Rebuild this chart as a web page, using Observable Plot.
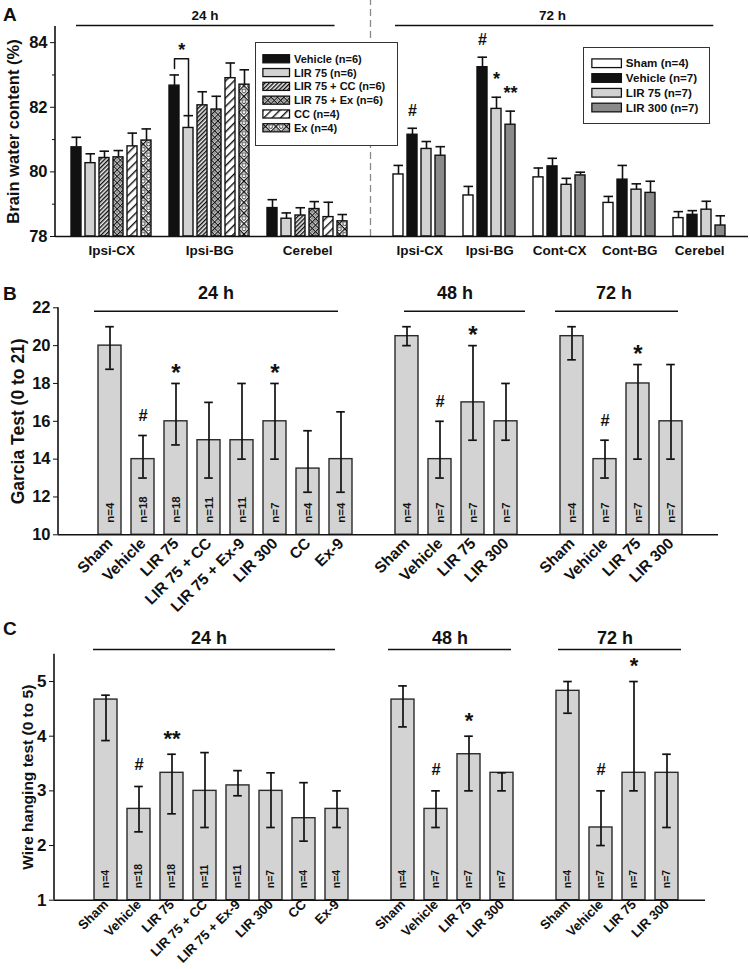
<!DOCTYPE html>
<html>
<head>
<meta charset="utf-8">
<script src="https://cdn.jsdelivr.net/npm/d3@7"></script>
<script src="https://cdn.jsdelivr.net/npm/@observablehq/plot@0.6"></script>
<style>
  html, body { margin: 0; padding: 0; background: #fff; }
  #root { position: relative; width: 750px; height: 969px; overflow: hidden; background: #fff;
          font-family: "Liberation Sans", Arial, Helvetica, sans-serif; font-weight: bold; color: #111; }
  .letter { position: absolute; font-size: 19px; line-height: 19px; font-weight: bold; }
</style>
</head>
<body>
<div id="root"></div>
<script>
// ---------------- DATA ----------------
// Panel A: brain water content (%), mean and SEM
const regionsA24 = ["Ipsi-CX", "Ipsi-BG", "Cerebel"];
const seriesA24 = ["Vehicle", "LIR 75", "LIR 75 + CC", "LIR 75 + Ex", "CC", "Ex"];
const nA24 = [6, 6, 6, 6, 4, 4];
const waterA24 = [
  [80.76, 80.27, 80.43, 80.45, 80.79, 80.97],
  [82.67, 81.36, 82.06, 81.93, 82.90, 82.70],
  [78.88, 78.55, 78.65, 78.85, 78.60, 78.47]
];
const semA24 = [
  [0.31, 0.29, 0.21, 0.21, 0.41, 0.36],
  [0.33, 0.38, 0.42, 0.41, 0.47, 0.46],
  [0.26, 0.18, 0.24, 0.23, 0.46, 0.21]
];
const regionsA72 = ["Ipsi-CX", "Ipsi-BG", "Cont-CX", "Cont-BG", "Cerebel"];
const seriesA72 = ["Sham", "Vehicle", "LIR 75", "LIR 300"];
const nA72 = [4, 7, 7, 7];
const waterA72 = [
  [79.92, 81.15, 80.71, 80.50],
  [79.27, 83.24, 81.95, 81.46],
  [79.83, 80.17, 79.60, 79.89],
  [79.04, 79.76, 79.45, 79.35],
  [78.57, 78.67, 78.83, 78.34]
];
const semA72 = [
  [0.28, 0.20, 0.23, 0.28],
  [0.28, 0.31, 0.36, 0.42],
  [0.29, 0.25, 0.20, 0.10],
  [0.20, 0.44, 0.18, 0.36],
  [0.20, 0.13, 0.26, 0.30]
];
const yDomainA = [78, 84.5];
const ticksA = [78, 80, 82, 84];
const minorTicksA = [79, 81, 83];
const sigA = [
  ["72 h", "Ipsi-CX", "Vehicle", "#"],
  ["72 h", "Ipsi-BG", "Vehicle", "#"],
  ["72 h", "Ipsi-BG", "LIR 75", "*"],
  ["72 h", "Ipsi-BG", "LIR 300", "**"]
];
const bracketA = ["24 h", "Ipsi-BG", "Vehicle", "LIR 75", "*"];

// Panel B: Garcia test (median, interquartile bars)
const groups24 = ["Sham", "Vehicle", "LIR 75", "LIR 75 + CC", "LIR 75 + Ex-9", "LIR 300", "CC", "Ex-9"];
const groups4 = ["Sham", "Vehicle", "LIR 75", "LIR 300"];
const n24 = [4, 18, 18, 11, 11, 7, 4, 4];
const n4 = [4, 7, 7, 7];
const garcia24 = [20, 14, 16, 15, 15, 16, 13.5, 14];
const garcia24Low = [18.75, 13, 14.75, 13, 14, 14, 12.25, 12.25];
const garcia24High = [21, 15.25, 18, 17, 18, 18, 15.5, 16.5];
const garcia48 = [20.5, 14, 17, 16];
const garcia48Low = [20, 13, 15, 15];
const garcia48High = [21, 16, 20, 18];
const garcia72 = [20.5, 14, 18, 16];
const garcia72Low = [19.25, 13, 14, 14];
const garcia72High = [21, 15, 19, 19];
const yDomainB = [10, 22];
const ticksB = [10, 12, 14, 16, 18, 20, 22];
const sigB = [["24 h", "Vehicle", "#"], ["24 h", "LIR 75", "*"], ["24 h", "LIR 300", "*"],
              ["48 h", "Vehicle", "#"], ["48 h", "LIR 75", "*"],
              ["72 h", "Vehicle", "#"], ["72 h", "LIR 75", "*"]];

// Panel C: wire hanging test
const wire24 = [4.67, 2.67, 3.33, 3.0, 3.1, 3.0, 2.5, 2.67];
const wire24Low = [3.92, 2.25, 2.58, 2.33, 2.91, 2.33, 2.08, 2.33];
const wire24High = [4.75, 3.08, 3.67, 3.7, 3.37, 3.33, 3.15, 3.0];
const wire48 = [4.67, 2.67, 3.67, 3.33];
const wire48Low = [4.17, 2.33, 3.0, 3.0];
const wire48High = [4.92, 3.0, 4.0, 3.33];
const wire72 = [4.83, 2.33, 3.33, 3.33];
const wire72Low = [4.42, 2.0, 3.0, 2.33];
const wire72High = [5.0, 3.0, 5.0, 3.67];
const yDomainC = [1, 5.5];
const ticksC = [1, 2, 3, 4, 5];
const sigC = [["24 h", "Vehicle", "#"], ["24 h", "LIR 75", "**"],
              ["48 h", "Vehicle", "#"], ["48 h", "LIR 75", "*"],
              ["72 h", "Vehicle", "#"], ["72 h", "LIR 75", "*"]];

// ---------------- STYLE ----------------
const W = 750;
const FONT = '"Liberation Sans", Arial, Helvetica, sans-serif';
const INK = "#111";
const baseStyle = {fontFamily: FONT, fontWeight: "bold", color: INK, background: "transparent", overflow: "visible"};
const fillOf = {
  "Vehicle": "#111111", "LIR 75": "#d2d2d2", "LIR 75 + CC": "url(#pHatchDense)",
  "LIR 75 + Ex": "url(#pCrossSmall)", "CC": "url(#pHatchWide)", "Ex": "url(#pCrossLarge)",
  "Sham": "#ffffff", "LIR 300": "#8a8a8a"
};
const intFmt = d => String(d);

const root = document.getElementById("root");
root.insertAdjacentHTML("beforeend", `
<svg width="0" height="0" style="position:absolute">
 <defs>
  <pattern id="pHatchDense" patternUnits="userSpaceOnUse" width="3" height="3" patternTransform="rotate(45)">
    <rect width="3" height="3" fill="#eee"/><rect width="1.4" height="3" fill="#111"/></pattern>
  <pattern id="pHatchWide" patternUnits="userSpaceOnUse" width="6" height="6" patternTransform="rotate(45)">
    <rect width="6" height="6" fill="#fff"/><rect width="1.4" height="6" fill="#111"/></pattern>
  <pattern id="pCrossSmall" patternUnits="userSpaceOnUse" width="4.6" height="4.6" patternTransform="rotate(45)">
    <rect width="4.6" height="4.6" fill="#fff"/><rect width="1.1" height="4.6" fill="#111"/><rect width="4.6" height="1.1" fill="#111"/>
    <circle cx="2.85" cy="2.85" r="1.0" fill="none" stroke="#111" stroke-width="0.6"/></pattern>
  <pattern id="pCrossLarge" patternUnits="userSpaceOnUse" width="7.5" height="7.5" patternTransform="rotate(45)">
    <rect width="7.5" height="7.5" fill="#fff"/><rect width="1.3" height="7.5" fill="#111"/><rect width="7.5" height="1.3" fill="#111"/>
    <circle cx="4.4" cy="4.4" r="1.9" fill="none" stroke="#111" stroke-width="0.9"/></pattern>
 </defs>
</svg>`);

function place(node, left, top) {
  node.style.position = "absolute";
  node.style.left = left + "px";
  node.style.top = top + "px";
  root.appendChild(node);
  return node;
}
function letter(t, left, top) {
  const d = document.createElement("div");
  d.className = "letter"; d.textContent = t;
  place(d, left, top);
}
// y-axis domain line drawn from the plot's own dimensions
const leftAxisLine = (index, scales, values, dims) => {
  const l = document.createElementNS("http://www.w3.org/2000/svg", "line");
  l.setAttribute("x1", dims.marginLeft); l.setAttribute("x2", dims.marginLeft);
  l.setAttribute("y1", dims.marginTop); l.setAttribute("y2", dims.height - dims.marginBottom);
  l.setAttribute("stroke", INK); l.setAttribute("stroke-width", 1.6);
  return l;
};

// ---------------- PANEL A ----------------
const keysA = [], rowsA = [];
regionsA24.forEach((r, i) => {
  if (i > 0) keysA.push(`gap24-${i}`);
  seriesA24.forEach((s, j) => {
    const key = `24 h|${r}|${s}`; keysA.push(key);
    rowsA.push({key, time: "24 h", region: r, series: s, mean: waterA24[i][j], hi: waterA24[i][j] + semA24[i][j]});
  });
});
for (let k = 0; k < 3; k++) keysA.push(`mid-${k}`);
regionsA72.forEach((r, i) => {
  if (i > 0) keysA.push(`gap72-${i}`);
  seriesA72.forEach((s, j) => {
    const key = `72 h|${r}|${s}`; keysA.push(key);
    rowsA.push({key, time: "72 h", region: r, series: s, mean: waterA72[i][j], hi: waterA72[i][j] + semA72[i][j]});
  });
});
const mlA = 55, mrA = 2, insLA = 6.9, insRA = 15;
const stepA = (W - mlA - mrA - insLA - insRA) / keysA.length;
const seriesAll = [...new Set([...seriesA24, ...seriesA72])];
const rowOf = (t, r, s) => rowsA.find(d => d.key === `${t}|${r}|${s}`);
const sigRowsA = sigA.map(([t, r, s, m]) => ({...rowOf(t, r, s), mark: m}));
const bVeh = rowOf(bracketA[0], bracketA[1], bracketA[2]);
const bLir = rowOf(bracketA[0], bracketA[1], bracketA[3]);
const bTop = bVeh.hi + 0.5;
const bracketPts = [
  {key: bVeh.key, v: bVeh.hi + 0.2}, {key: bVeh.key, v: bTop},
  {key: bLir.key, v: bTop}, {key: bLir.key, v: bLir.hi + 0.03}
];
const groupLabelsA = [
  ...regionsA24.map(r => ({key: `24 h|${r}|${seriesA24[2]}`, text: r})),
  ...regionsA72.map(r => ({key: `72 h|${r}|${seriesA72[1]}`, text: r}))
];
const first24 = keysA.find(k => k.startsWith("24 h"));
const last24 = keysA.filter(k => k.startsWith("24 h")).pop();
const first72 = keysA.find(k => k.startsWith("72 h"));
const last72 = keysA.filter(k => k.startsWith("72 h")).pop();

const plotA = Plot.plot({
  width: W, height: 265,
  marginLeft: mlA, marginRight: mrA, marginTop: 26, marginBottom: 29,
  style: baseStyle,
  x: {type: "band", domain: keysA, paddingInner: 0.3, paddingOuter: 0.15, insetLeft: insLA, insetRight: insRA, axis: null},
  y: {domain: yDomainA, axis: null},
  marks: [
    Plot.ruleX(["mid-1"], {y1: yDomainA[0], y2: 85.35, stroke: "#8a8a8a", strokeWidth: 1.3, strokeDasharray: "7,4"}),
    ...seriesAll.map(s => Plot.barY(rowsA.filter(d => d.series === s),
      {x: "key", y1: yDomainA[0], y2: "mean", fill: fillOf[s], stroke: INK, strokeWidth: 1.4})),
    Plot.ruleX(rowsA, {x: "key", y1: "mean", y2: "hi", stroke: INK, strokeWidth: 1.6}),
    Plot.tickY(rowsA, {x: "key", y: "hi", stroke: INK, strokeWidth: 1.6, insetLeft: 0.5, insetRight: 0}),
    Plot.ruleY([yDomainA[0]], {stroke: INK, strokeWidth: 1.6}),
    leftAxisLine,
    Plot.axisY({ticks: ticksA, tickFormat: intFmt, tickSize: 5, tickPadding: 3, fontSize: 16.5, label: null}),
    Plot.axisY({ticks: minorTicksA, tickSize: 3, tickFormat: () => "", label: null}),
    Plot.text(["Brain water content (%)"], {frameAnchor: "left", textAnchor: "middle", rotate: -90, dx: -42, fontSize: 16.5, text: d => d}),
    Plot.text(groupLabelsA, {x: "key", y: yDomainA[0], text: "text", dx: stepA / 2, dy: 14, fontSize: 13.5}),
    Plot.text([{key: "24 h|Ipsi-BG|LIR 75 + CC", t: "24 h"}], {x: "key", y: 84.84, text: "t", dx: 2.5, fontSize: 13.5}),
    Plot.text([{key: "72 h|Cont-CX|Vehicle", t: "72 h"}], {x: "key", y: 84.84, text: "t", fontSize: 13.5}),
    Plot.ruleY([{y: 84.53, a: first24, b: last24}], {y: "y", x1: "a", x2: "b", insetLeft: 5, insetRight: 12.5, stroke: INK, strokeWidth: 1.4}),
    Plot.ruleY([{y: 84.53, a: first72, b: last72}], {y: "y", x1: "a", x2: "b", insetLeft: 2, insetRight: 11.7, stroke: INK, strokeWidth: 1.4}),
    Plot.line(bracketPts, {x: "key", y: "v", stroke: INK, strokeWidth: 1.5}),
    Plot.text([bVeh], {x: "key", y: bTop, text: () => bracketA[4], dx: stepA / 2, dy: -9, fontSize: 18}),
    Plot.text(sigRowsA.filter(d => d.mark === "#"), {x: "key", y: "hi", text: "mark", dy: -17, fontSize: 16}),
    Plot.text(sigRowsA.filter(d => d.mark !== "#"), {x: "key", y: "hi", text: "mark", dy: -18, fontSize: 18})
  ]
});
place(plotA, 0, 0);

function legend(series, ns, o) {
  const rows = series.map((s, i) => ({s, label: `${s} (n=${ns[i]})`}));
  const p = Plot.plot({
    width: o.width, height: o.height, marginLeft: 0, marginRight: 0, marginTop: o.pad, marginBottom: o.pad,
    style: baseStyle,
    x: {domain: [0, o.width], axis: null},
    y: {type: "band", domain: series, padding: 0, axis: null},
    marks: [
      ...rows.map(r => Plot.barX([r], {x1: o.sw[0], x2: o.sw[1], y: "s", insetTop: o.inset, insetBottom: o.inset,
        fill: fillOf[r.s], stroke: INK, strokeWidth: 1.3})),
      Plot.text(rows, {x: o.tx, y: "s", text: "label", textAnchor: "start", fontSize: o.fs})
    ]
  });
  const box = document.createElement("div");
  box.style.cssText = `width:${o.width}px;height:${o.height}px;border:1px solid #333;background:#fff;box-sizing:border-box;`;
  p.style.position = "absolute"; p.style.left = "-1px"; p.style.top = "-1px";
  box.appendChild(p);
  place(box, o.left, o.top);
}
legend(seriesA24, nA24, {left: 255, top: 42, width: 143, height: 104, pad: 7.6, sw: [8, 35], inset: 2.9, tx: 39, fs: 11.2});
legend(seriesA72, nA72, {left: 583, top: 47, width: 127, height: 77, pad: 7.8, sw: [9, 39], inset: 3.1, tx: 43, fs: 11.8});

// ---------------- PANELS B & C ----------------
function behaviorPanel(o) {
  const keys = [], rows = [];
  o.sets.forEach((set, si) => {
    if (si > 0) keys.push(`gap-${si}`);
    set.groups.forEach((g, i) => {
      const key = `${set.time}|${g}`; keys.push(key);
      rows.push({key, time: set.time, group: g, v: set.v[i], lo: set.lo[i], hi: set.hi[i], n: `n=${set.n[i]}`});
    });
  });
  const sig = o.sig.map(([t, g, m]) => ({...rows.find(r => r.key === `${t}|${g}`), mark: m}));
  const annMarks = o.ann.flatMap(a => {
    const ks = keys.filter(k => k.startsWith(a.time));
    return [
      Plot.ruleY([{y: o.lineY, a: ks[0], b: ks[ks.length - 1]}], {y: "y", x1: "a", x2: "b",
        insetLeft: a.insL, insetRight: a.insR, stroke: INK, strokeWidth: 1.4}),
      Plot.text([{key: a.labelKey, t: a.time}], {x: "key", y: o.labelY, text: "t", dx: a.dx, fontSize: 18})
    ];
  });
  const p = Plot.plot({
    width: W, height: o.height, marginLeft: o.ml, marginRight: o.mr, marginTop: o.mt, marginBottom: o.mb,
    style: baseStyle,
    x: {type: "band", domain: keys, paddingInner: o.pad, paddingOuter: o.pad / 2, insetLeft: o.insL, insetRight: o.insR, axis: null},
    y: {domain: o.yDomain, axis: null},
    marks: [
      Plot.barY(rows, {x: "key", y1: o.yDomain[0], y2: "v", fill: "#d3d3d3", stroke: "#2a2a2a", strokeWidth: 1.4}),
      Plot.text(rows, {x: "key", y: o.yDomain[0], text: "n", rotate: -90, textAnchor: "start", dy: o.nDy, fontSize: o.nFs}),
      Plot.ruleX(rows, {x: "key", y1: "lo", y2: "hi", stroke: INK, strokeWidth: 1.7}),
      Plot.tickY(rows, {x: "key", y: "lo", stroke: INK, strokeWidth: 1.7, insetLeft: o.cap, insetRight: o.cap}),
      Plot.tickY(rows, {x: "key", y: "hi", stroke: INK, strokeWidth: 1.7, insetLeft: o.cap, insetRight: o.cap}),
      Plot.ruleY([o.yDomain[0]], {stroke: INK, strokeWidth: 1.6}),
      leftAxisLine,
      Plot.axisY({ticks: o.ticks, tickFormat: intFmt, tickSize: 5, tickPadding: 3, fontSize: o.tickFs, label: null}),
      Plot.axisX({ticks: keys.filter(k => !k.startsWith("gap")), tickFormat: k => k.split("|")[1],
        tickRotate: -45, tickSize: 0, tickPadding: o.xPad, fontSize: o.xFs, label: null}),
      Plot.text([o.title], {frameAnchor: "left", textAnchor: "middle", rotate: -90, dx: o.titleDx, fontSize: o.titleFs, text: d => d}),
      ...annMarks,
      Plot.text(sig.filter(d => d.mark === "#"), {x: "key", y: "hi", text: "mark", dy: o.hashDy, fontSize: 16.5}),
      Plot.text(sig.filter(d => d.mark !== "#"), {x: "key", y: "hi", text: "mark", dy: o.starDy, fontSize: o.starFs})
    ]
  });
  place(p, 0, o.top);
}

behaviorPanel({
  top: 280, height: 320, ml: 58, mr: 32, mt: 27.3, mb: 65.7, insL: 29.7, insR: 26.2, pad: 0.31,
  yDomain: yDomainB, ticks: ticksB, tickFs: 16.5, xFs: 15.5, xPad: 6, nFs: 11.5, nDy: -12, cap: 7.2,
  title: "Garcia Test (0 to 21)", titleDx: -40.5, titleFs: 17.5,
  hashDy: -19.5, starDy: -10.5, starFs: 24,
  lineY: 21.82, labelY: 22.76,
  sets: [
    {time: "24 h", groups: groups24, v: garcia24, lo: garcia24Low, hi: garcia24High, n: n24},
    {time: "48 h", groups: groups4, v: garcia48, lo: garcia48Low, hi: garcia48High, n: n4},
    {time: "72 h", groups: groups4, v: garcia72, lo: garcia72Low, hi: garcia72High, n: n4}
  ],
  sig: sigB,
  ann: [
    {time: "24 h", labelKey: "24 h|LIR 75 + CC", dx: 7, insL: -4, insR: 14},
    {time: "48 h", labelKey: "48 h|Vehicle", dx: 15, insL: 9, insR: -8},
    {time: "72 h", labelKey: "72 h|Vehicle", dx: 9, insL: -5, insR: 4}
  ]
});

behaviorPanel({
  top: 620, height: 349, ml: 54, mr: 45, mt: 33.7, mb: 69.3, insL: 32.9, insR: 20.4, pad: 0.307,
  yDomain: yDomainC, ticks: ticksC, tickFs: 17, xFs: 13.2, xPad: 2, nFs: 10.5, nDy: -12, cap: 7.2,
  title: "Wire hanging test (0 to 5)", titleDx: -26, titleFs: 15.5,
  hashDy: -21.5, starDy: -15.5, starFs: 22,
  lineY: 5.585, labelY: 5.786,
  sets: [
    {time: "24 h", groups: groups24, v: wire24, lo: wire24Low, hi: wire24High, n: n24},
    {time: "48 h", groups: groups4, v: wire48, lo: wire48Low, hi: wire48High, n: n4},
    {time: "72 h", groups: groups4, v: wire72, lo: wire72Low, hi: wire72High, n: n4}
  ],
  sig: sigC,
  ann: [
    {time: "24 h", labelKey: "24 h|LIR 75 + CC", dx: 4, insL: -1, insR: 13},
    {time: "48 h", labelKey: "48 h|Vehicle", dx: 14, insL: -3, insR: 2},
    {time: "72 h", labelKey: "72 h|Vehicle", dx: 14, insL: 2, insR: -3}
  ]
});

letter("A", 3, 5);
letter("B", 3, 284);
letter("C", 3, 619);
</script>
</body>
</html>
